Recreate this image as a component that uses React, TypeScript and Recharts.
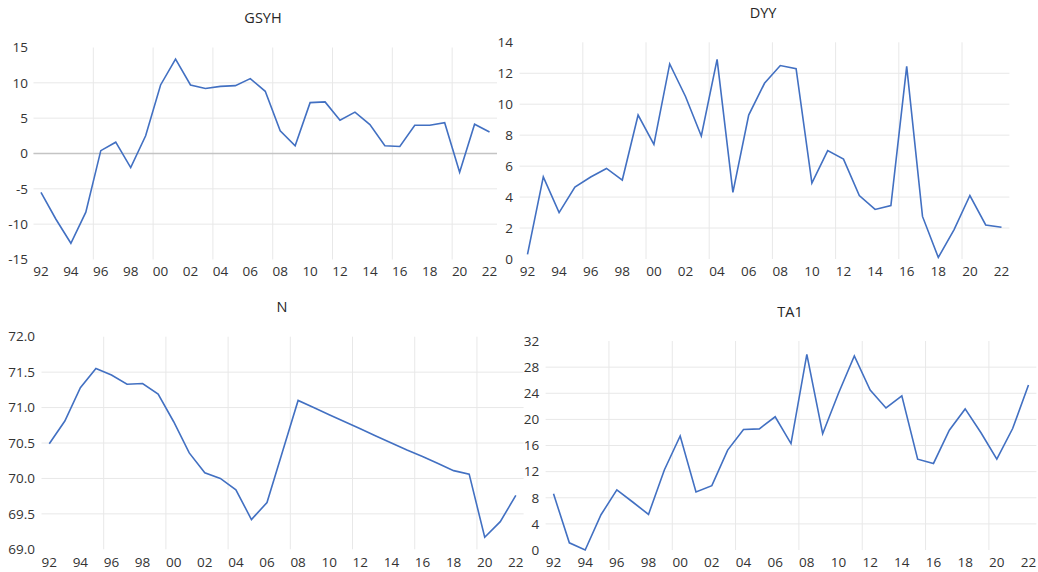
import { CartesianGrid, Line, LineChart, ReferenceLine, XAxis, YAxis } from "recharts";

const FONT = "'Open Sans', 'Noto Sans', sans-serif";
const LINE_COLOR = "#4270c2";
const GRID_COLOR = "#e8e8e8";
const TEXT_COLOR = "#333";

const YEARS = [
  1992, 1993, 1994, 1995, 1996, 1997, 1998, 1999, 2000, 2001, 2002, 2003, 2004, 2005, 2006, 2007,
  2008, 2009, 2010, 2011, 2012, 2013, 2014, 2015, 2016, 2017, 2018, 2019, 2020, 2021, 2022,
];
const X_TICKS = [1992, 1994, 1996, 1998, 2000, 2002, 2004, 2006, 2008, 2010, 2012, 2014, 2016, 2018, 2020, 2022];
// vertical gridlines fall between categories, every 4 years
const X_GRID = [1995.5, 1999.5, 2003.5, 2007.5, 2011.5, 2015.5, 2019.5];

const GSYH = [
  -5.5, -9.3, -12.7, -8.3, 0.4, 1.6, -2.0, 2.5, 9.7, 13.35, 9.7, 9.2, 9.5, 9.6, 10.6, 8.8,
  3.2, 1.1, 7.2, 7.3, 4.7, 5.85, 4.1, 1.1, 1.0, 4.0, 4.0, 4.35, -2.65, 4.15, 3.05,
];
const DYY = [
  0.3, 5.3, 3.0, 4.65, 5.3, 5.85, 5.1, 9.3, 7.4, 12.6, 10.5, 7.95, 12.9, 4.3, 9.3, 11.35,
  12.5, 12.3, 4.9, 7.0, 6.45, 4.1, 3.2, 3.45, 12.45, 2.75, 0.1, 1.9, 4.1, 2.2, 2.05,
];
const N = [
  70.49, 70.81, 71.28, 71.55, 71.46, 71.33, 71.34, 71.19, 70.8, 70.36, 70.08, 70.0, 69.84, 69.42,
  69.66, 70.38, 71.1, 71.0, 70.9, 70.8, 70.7, 70.6, 70.5, 70.4, 70.31, 70.21, 70.11, 70.06, 69.17,
  69.39, 69.76,
];
const TA1 = [
  8.6, 1.1, 0, 5.4, 9.2, 7.35, 5.45, 12.25, 17.45, 8.9, 9.85, 15.3, 18.45, 18.55, 20.4, 16.3,
  29.95, 17.8, 24.0, 29.7, 24.5, 21.75, 23.6, 13.9, 13.25, 18.35, 21.6, 17.95, 13.9, 18.6, 25.25,
];

const GSYH_TICKS = [-15, -10, -5, 0, 5, 10, 15];
const DYY_TICKS = [0, 2, 4, 6, 8, 10, 12, 14];
const N_TICKS = [69.0, 69.5, 70.0, 70.5, 71.0, 71.5, 72.0];
const TA1_TICKS = [0, 4, 8, 12, 16, 20, 24, 28, 32];

type PanelProps = {
  title: string;
  values: number[];
  yTicks: number[];
  yFormat?: (v: number) => string;
  left: number;
  top: number;
  width: number;
  height: number;
  margin: { top: number; right: number; bottom: number; left: number };
  yWidth: number;
  yTickMargin: number;
  xTickMargin: number;
  titleX: number;
  titleY: number;
  zeroLine?: boolean;
};

function Panel(p: PanelProps) {
  const data = YEARS.map((y, i) => ({ year: y, v: p.values[i] }));
  const tick = { fontSize: 13.5, fill: TEXT_COLOR, fontFamily: FONT };
  return (
    <>
      <div style={{ position: "absolute", left: p.left, top: p.top }}>
        <LineChart width={p.width} height={p.height} data={data} margin={p.margin}>
          <CartesianGrid
            stroke={GRID_COLOR}
            strokeWidth={1}
            horizontalValues={p.yTicks.slice(1, -1)}
            verticalValues={X_GRID}
          />
          <XAxis
            dataKey="year"
            type="number"
            domain={[1991.5, 2022.5]}
            ticks={X_TICKS}
            interval={0}
            tickFormatter={(y: number) => String(y).slice(2)}
            axisLine={false}
            tickLine={false}
            tickSize={0}
            tickMargin={p.xTickMargin}
            height={20}
            tick={tick}
          />
          <YAxis
            type="number"
            domain={[p.yTicks[0], p.yTicks[p.yTicks.length - 1]]}
            ticks={p.yTicks}
            interval={0}
            tickFormatter={p.yFormat}
            axisLine={false}
            tickLine={false}
            tickSize={0}
            tickMargin={p.yTickMargin}
            width={p.yWidth}
            tick={tick}
          />
          {p.zeroLine && <ReferenceLine y={0} stroke="#c4c4c4" strokeWidth={1.5} />}
          <Line
            type="linear"
            dataKey="v"
            stroke={LINE_COLOR}
            strokeWidth={1.6}
            dot={false}
            isAnimationActive={false}
          />
        </LineChart>
      </div>
      <div
        style={{
          position: "absolute",
          left: p.titleX,
          top: p.titleY,
          transform: "translate(-50%, -50%)",
          fontFamily: FONT,
          fontSize: 14.5,
          color: "#262626",
          whiteSpace: "nowrap",
        }}
      >
        {p.title}
      </div>
    </>
  );
}

export default function App() {
  return (
    <div
      style={{
        position: "absolute",
        left: 0,
        top: 0,
        width: 1038,
        height: 572,
        overflow: "hidden",
        background: "#fff",
        fontFamily: FONT,
      }}
    >
      <Panel
        title="GSYH"
        values={GSYH}
        yTicks={GSYH_TICKS}
        left={0}
        top={0}
        width={497}
        height={285}
        margin={{ top: 47.5, right: 0, bottom: 5.5, left: 0 }}
        yWidth={33.5}
        yTickMargin={5.5}
        xTickMargin={7.3}
        titleX={263}
        titleY={16.5}
        zeroLine
      />
      <Panel
        title="DYY"
        values={DYY}
        yTicks={DYY_TICKS}
        left={497}
        top={0}
        width={541}
        height={285}
        margin={{ top: 42.3, right: 28.6, bottom: 6, left: 0 }}
        yWidth={22.6}
        yTickMargin={6.6}
        xTickMargin={7.8}
        titleX={763}
        titleY={12}
      />
      <Panel
        title="N"
        values={N}
        yTicks={N_TICKS}
        yFormat={(v: number) => v.toFixed(1)}
        left={0}
        top={290}
        width={524}
        height={282}
        margin={{ top: 46.7, right: 0.4, bottom: 2.7, left: 0 }}
        yWidth={41.5}
        yTickMargin={6.5}
        xTickMargin={8.5}
        titleX={282}
        titleY={306}
      />
      <Panel
        title="TA1"
        values={TA1}
        yTicks={TA1_TICKS}
        left={524}
        top={290}
        width={514}
        height={282}
        margin={{ top: 51, right: 1.6, bottom: 2, left: 0 }}
        yWidth={21.6}
        yTickMargin={6.3}
        xTickMargin={7.8}
        titleX={790}
        titleY={311}
      />
    </div>
  );
}
